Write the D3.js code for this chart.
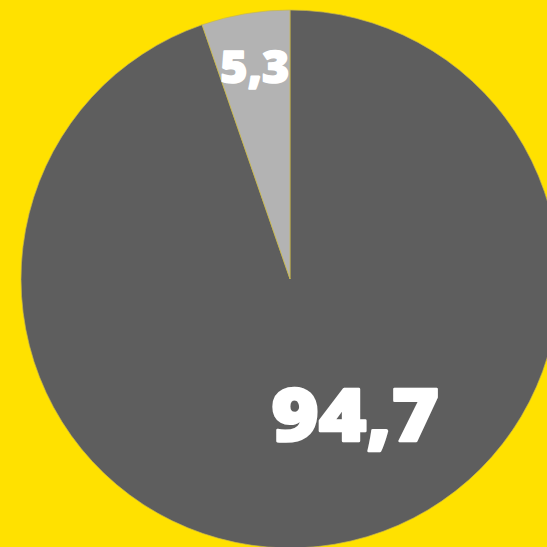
<!DOCTYPE html>
<html><head><meta charset="utf-8">
<script src="https://cdn.jsdelivr.net/npm/d3@7"></script>
<style>html,body{margin:0;padding:0;background:#ffe100;}svg{display:block;}</style>
</head><body>
<script>
const categories = ["A", "B"];
const values = [94.7, 5.3];
const labels = ["94,7", "5,3"];
const colors = ["#5e5e5e", "#b3b3b3"];

const W = 547, H = 547;
const cx = 290, cy = 279, R = 269;
const svg = d3.select("body").append("svg").attr("width", W).attr("height", H);
svg.append("rect").attr("width", W).attr("height", H).attr("fill", "#ffe100");
const g = svg.append("g").attr("transform", `translate(${cx},${cy})`);

const pie = d3.pie().sort(null).value(d => d.v);
const arcs = pie(values.map((v, i) => ({v, c: categories[i], l: labels[i], col: colors[i]})));
const arc = d3.arc().innerRadius(0).outerRadius(R);

g.selectAll("path").data(arcs).join("path")
  .attr("d", arc).attr("fill", d => d.data.col)
  .attr("stroke", "#c8b84a").attr("stroke-width", 0.7);

// label placement (polar: radius fraction, angle in radians from 12 o'clock)
const labelPolar = [{r: 0.555, a: 2.69, size: 72, sw: 2.5}, {r: 0.805, a: -0.163, size: 45, sw: 1.6}];
g.selectAll("text").data(arcs).join("text")
  .attr("x", (d, i) => R * labelPolar[i].r * Math.sin(labelPolar[i].a))
  .attr("y", (d, i) => -R * labelPolar[i].r * Math.cos(labelPolar[i].a))
  .attr("text-anchor", "middle").attr("dominant-baseline", "central")
  .attr("fill", "#ffffff").attr("stroke", "#ffffff")
  .attr("stroke-width", (d, i) => labelPolar[i].sw).attr("stroke-linejoin", "round")
  .attr("font-family", "'Open Sans', sans-serif").attr("font-weight", 800)
  .attr("font-size", (d, i) => labelPolar[i].size)
  .attr("textLength", (d, i) => i === 0 ? 168 : 69)
  .attr("lengthAdjust", "spacingAndGlyphs")
  .text(d => d.data.l);
</script>
</body></html>
